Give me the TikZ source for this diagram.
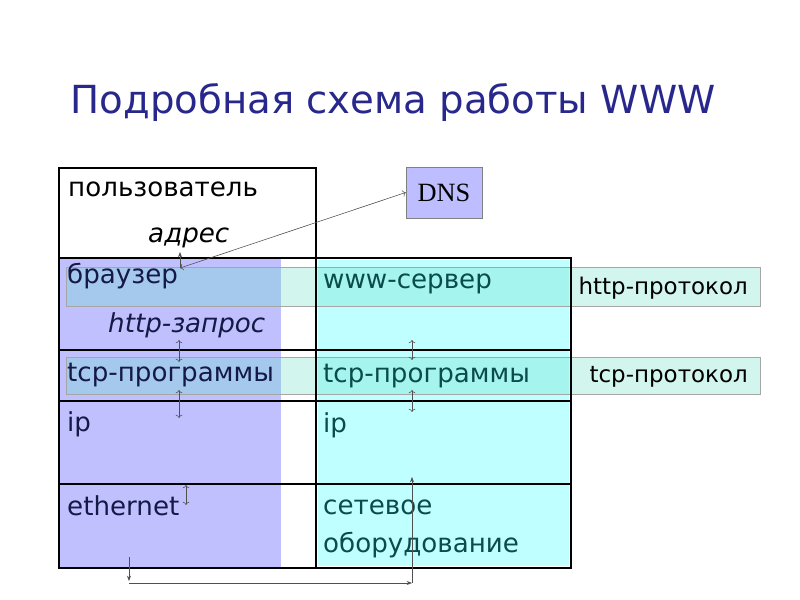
\documentclass[tikz,border=0pt]{standalone}
\usepackage{fontspec}
\setmainfont{DejaVu Sans}
\newfontfamily\dnsfont{Liberation Serif}
\usepackage{xcolor}
\usetikzlibrary{arrows.meta,positioning}

\definecolor{titleblue}{RGB}{40,40,140}
\definecolor{userfill}{RGB}{192,192,255}
\definecolor{serverfill}{RGB}{192,255,255}
\definecolor{bandfill}{RGB}{105,221,198}
\definecolor{leftink}{RGB}{20,25,70}
\definecolor{rightink}{RGB}{10,75,75}
\definecolor{linkgray}{RGB}{80,80,80}

\begin{document}
\begin{tikzpicture}[x=0.03cm, y=-0.03cm,
  txt/.style={anchor=base west, inner sep=0pt, font=\fontsize{22.3}{26}\selectfont},
  itxt/.style={txt, font=\fontsize{22.3}{26}\selectfont\itshape},
  ptxt/.style={anchor=base east, inner sep=0pt, font=\fontsize{19.6}{24}\selectfont},
  grid/.style={draw=black, line width=2.2pt},
  band/.style={draw=gray!70, fill=bandfill, fill opacity=0.3},
  dnsbox/.style={draw=gray, fill=userfill!90!blue!80, minimum width=2.28cm, minimum height=1.53cm, font=\dnsfont\fontsize{22.5}{26}\selectfont},
  link/.style={draw=linkgray, line width=0.5pt, -{Stealth[length=1.6mm, width=1.2mm]}},
]
\useasboundingbox (0,0) rectangle (800,600);

% title
\node[font=\fontsize{33}{40}\selectfont, text=titleblue] (title) at (393,103) {Подробная схема работы WWW};

% coloured columns
\fill[userfill] (59,258) rectangle (281,568);
\fill[serverfill] (318,260) rectangle (569,566);

% protocol bands
\draw[band] (66,267) rectangle (760,306);
\draw[band] (66,357) rectangle (760,394);

% table
\draw[grid] (59,168) rectangle (316,568);
\draw[grid] (316,258) rectangle (571,568);
\foreach \y in {258,350,401,484}
  \draw[grid] (59,\y) -- (571,\y);

% client side
\node[txt] (user) at (68,197) {пользователь};
\node[itxt] (addr) at (148,243) {адрес};
\node[txt, text=leftink] (browser) at (67,284) {браузер};
\node[itxt, text=leftink] (request) at (108,333) {http-запрос};
\node[txt, text=leftink] (tcpL) at (67,382) {tcp-программы};
\node[txt, text=leftink] (ipL) at (67,432) {ip};
\node[txt, text=leftink] (eth) at (67,516) {ethernet};

% server side
\node[txt, text=rightink] (server) at (323,289) {www-сервер};
\node[txt, text=rightink] (tcpR) at (323,383) {tcp-программы};
\node[txt, text=rightink] (ipR) at (323,433) {ip};
\node[txt, text=rightink] (hw1) at (323,515) {сетевое};
\node[txt, text=rightink] (hw2) at (323,553) {оборудование};

% protocols
\node[ptxt] (httpP) at (748,295) {http-протокол};
\node[ptxt] (tcpP) at (748,383) {tcp-протокол};

\node[dnsbox] (dns) at (444,192.5) {DNS};

% connectors
\coordinate (brtop) at (180,268);
\coordinate (addrfoot) at (180,252);
\coordinate (reqL) at (179,340);
\coordinate (tcpLtop) at (179,362);
\coordinate (tcpLbot) at (179,390);
\coordinate (ipLtop) at (179,418);
\coordinate (reqR) at (412,340);
\coordinate (tcpRtop) at (412,360);
\coordinate (tcpRbot) at (412,390);
\coordinate (ipRtop) at (412,412);
\coordinate (ethtop) at (186,485);
\coordinate (ethin) at (186,505);
\coordinate (ethlow) at (129,557);
\coordinate (ethdown) at (129,581);
\coordinate (ethcorner) at (129,583);
\coordinate (hwcorner) at (412,583);
\coordinate (hwtop) at (412,477);

\draw[link, <->] (brtop) -- (dns.west);
\draw[link] (brtop) -- (addrfoot);
\draw[link, <->] (reqL) -- (tcpLtop);
\draw[link, <->] (tcpLbot) -- (ipLtop);
\draw[link, <->] (reqR) -- (tcpRtop);
\draw[link, <->] (tcpRbot) -- (ipRtop);
\draw[link, <->] (ethtop) -- (ethin);
\draw[link] (ethlow) -- (ethdown);
\draw[link] (ethcorner) -- (hwcorner);
\draw[link] (hwcorner) -- (hwtop);
\end{tikzpicture}
\end{document}
